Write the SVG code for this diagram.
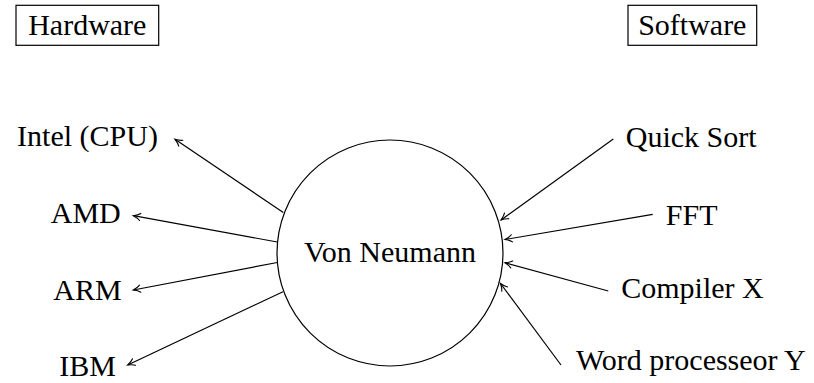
<svg xmlns="http://www.w3.org/2000/svg" width="814" height="383" viewBox="0 0 814 383">
<style>
  .t { font-size: 30px; fill: #000; text-anchor: middle; }
  .box { fill: none; stroke: #000; stroke-width: 1.2; }
  .edge { stroke: #000; stroke-width: 1.2; fill: none; marker-end: url(#to); }
</style>
<defs>
  <marker id="to" markerUnits="userSpaceOnUse" markerWidth="12" markerHeight="12" viewBox="-9 -6 12 12" refX="0" refY="0" orient="auto" overflow="visible">
    <path d="M-7,-3.6 C-5,-1.8 -1.6,-0.5 0,0 C-1.6,0.5 -5,1.8 -7,3.6" fill="none" stroke="#000" stroke-width="1.1" stroke-linecap="round"/>
  </marker>
</defs>
<rect width="814" height="383" fill="#fff"/>
<g font-family="Liberation Serif, Times New Roman, DejaVu Serif, serif">
<g id="hardware">
  <rect class="box" x="16" y="5.3" width="142.7" height="40"/>
  <text class="t" x="87.3" y="35">Hardware</text>
</g>
<g id="software">
  <rect class="box" x="628" y="5.3" width="128.7" height="40"/>
  <text class="t" x="692.3" y="35">Software</text>
</g>
<g id="vonneumann">
  <circle cx="390" cy="253" r="113" fill="none" stroke="#000" stroke-width="1.2"/>
  <text class="t" x="390" y="261.7">Von Neumann</text>
</g>
<g id="intel"><text class="t" x="87.5" y="145.5">Intel (CPU)</text></g>
<g id="amd"><text class="t" x="85.8" y="223.3">AMD</text></g>
<g id="arm"><text class="t" x="87.5" y="300">ARM</text></g>
<g id="ibm"><text class="t" x="87.5" y="375.7">IBM</text></g>
<g id="quicksort"><text class="t" x="691.2" y="146.7">Quick Sort</text></g>
<g id="fft"><text class="t" x="691.7" y="225">FFT</text></g>
<g id="compiler"><text class="t" x="692.5" y="298.3">Compiler X</text></g>
<g id="word"><text class="t" x="690.8" y="370">Word processeor Y</text></g>
</g>
<g id="connectors">
  <line class="edge" x1="283.3" y1="212.5" x2="175" y2="139.3"/>
  <line class="edge" x1="277.3" y1="242" x2="133.3" y2="215.7"/>
  <line class="edge" x1="277.3" y1="262.5" x2="133.3" y2="290"/>
  <line class="edge" x1="283" y1="291.7" x2="127.7" y2="365"/>
  <line class="edge" x1="613.3" y1="139" x2="501" y2="220"/>
  <line class="edge" x1="652.7" y1="214.3" x2="505" y2="239.5"/>
  <line class="edge" x1="608.3" y1="291" x2="505" y2="262.7"/>
  <line class="edge" x1="561" y1="365" x2="500.5" y2="283.5"/>
</g>
</svg>
